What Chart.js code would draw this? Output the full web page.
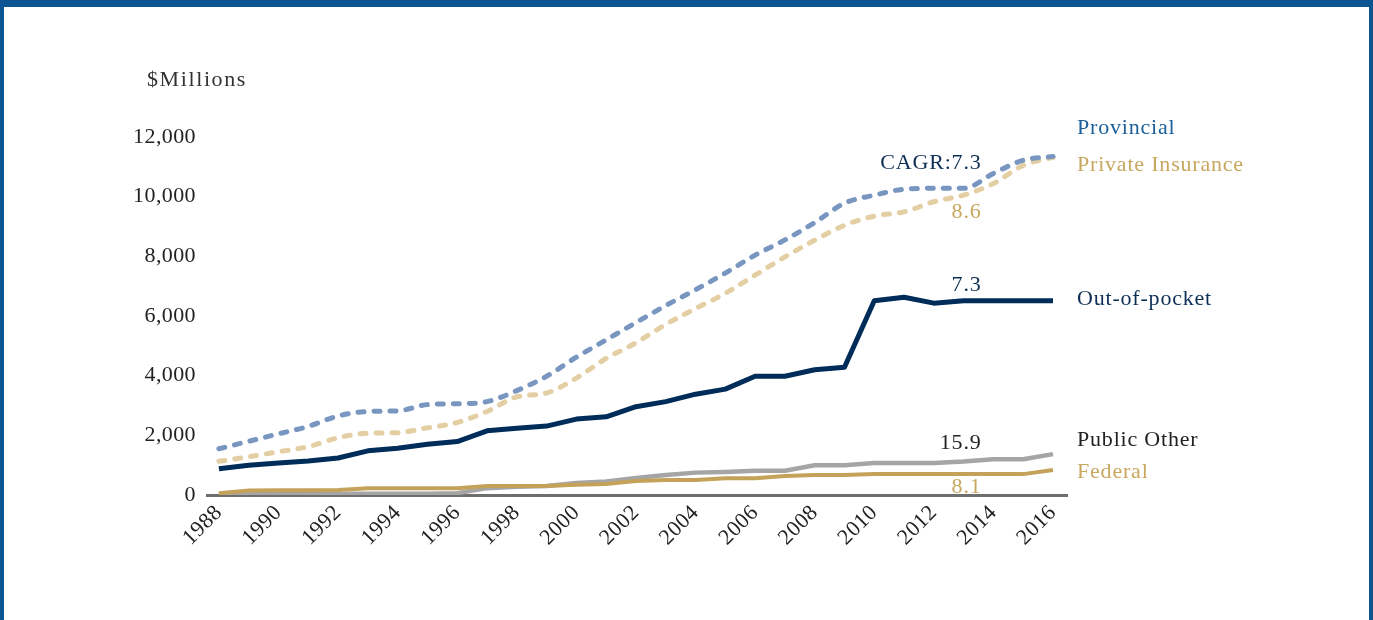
<!DOCTYPE html>
<html>
<head>
<meta charset="utf-8">
<script src="https://cdn.jsdelivr.net/npm/chart.js@4/dist/chart.umd.min.js"></script>
<style>
  html, body { margin: 0; padding: 0; background: #fff; }
  #wrap { position: relative; width: 1373px; height: 620px; overflow: hidden; }
  #frame {
    position: absolute; left: 0; top: 0; width: 1365px; height: 613px;
    border-top: 7px solid #0a5592; border-left: 4px solid #0a5592; border-right: 4px solid #0a5592;
    pointer-events: none;
  }
  canvas { position: absolute; left: 0; top: 0; }
</style>
</head>
<body>
<div id="wrap">
  <canvas id="spendChart" width="1373" height="620"></canvas>
  <div id="frame"></div>
</div>
<script>
const years = [1988, 1989, 1990, 1991, 1992, 1993, 1994, 1995, 1996, 1997, 1998, 1999, 2000, 2001, 2002,
  2003, 2004, 2005, 2006, 2007, 2008, 2009, 2010, 2011, 2012, 2013, 2014, 2015, 2016];
const tickYears = [1988, 1990, 1992, 1994, 1996, 1998, 2000, 2002, 2004, 2006, 2008, 2010, 2012, 2014, 2016];

const provincial = [1550, 1800, 2050, 2300, 2650, 2800, 2820, 3030, 3060, 3130, 3500, 3980, 4620, 5200, 5780,
  6350, 6880, 7440, 8040, 8550, 9130, 9780, 10050, 10250, 10280, 10280, 10780, 11220, 11350];
const privateInsurance = [1130, 1280, 1450, 1620, 1920, 2070, 2090, 2250, 2430, 2800, 3290, 3420, 3920, 4580, 5100,
  5720, 6250, 6760, 7370, 7980, 8540, 9040, 9350, 9490, 9830, 10050, 10440, 11050, 11320];
const outOfPocket = [880, 1000, 1070, 1140, 1240, 1480, 1570, 1700, 1790, 2150, 2240, 2310, 2545, 2620, 2960,
  3130, 3380, 3550, 3980, 3980, 4200, 4280, 6510, 6630, 6430, 6510, 6510, 6510, 6510];
const publicOther = [40, 40, 40, 40, 40, 40, 40, 40, 60, 230, 280, 300, 400, 450, 570,
  670, 750, 770, 810, 810, 1000, 1000, 1070, 1070, 1070, 1120, 1200, 1200, 1370];
const federal = [60, 150, 160, 160, 170, 230, 230, 230, 230, 300, 300, 300, 340, 370, 470,
  500, 500, 560, 560, 640, 670, 670, 700, 700, 700, 700, 700, 700, 840];

// growth labels: text, year / value anchor, colour
const cagrLabels = [
  { text: 'CAGR:7.3', x: 2013.6, y: 11120, color: '#0e2f55' },
  { text: '8.6', x: 2013.6, y: 9480, color: '#c8a75f' },
  { text: '7.3', x: 2013.6, y: 7035, color: '#0e2f55' },
  { text: '15.9', x: 2013.6, y: 1740, color: '#222222' },
  { text: '8.1', x: 2013.6, y: 270, color: '#c8a75f' }
];
// series names on the right
const seriesNames = ['Provincial', 'Private Insurance', 'Out-of-pocket', 'Public Other', 'Federal'];
const namePos = [12280, 11040, 6560, 1820, 760];
const nameColors = ['#1a5e9a', '#c8a75f', '#0e2f55', '#222222', '#c8a75f'];

const toXY = arr => arr.map((v, i) => ({ x: years[i], y: v }));
const FONT = "'Liberation Serif', 'Times New Roman', serif";

const spacingPlugin = {
  id: 'spacing',
  beforeDraw(chart) { chart.ctx.letterSpacing = '0.4px'; }
};

const textPlugin = {
  id: 'texts',
  afterDatasetsDraw(chart) {
    const { ctx, chartArea, scales } = chart;
    ctx.save();
    ctx.textBaseline = 'middle';
    // axis unit
    ctx.font = '22px ' + FONT;
    ctx.letterSpacing = '1.6px';
    ctx.fillStyle = '#333';
    ctx.textAlign = 'left';
    ctx.fillText('$Millions', 147, 80);
    // series names
    ctx.font = '22px ' + FONT;
    ctx.letterSpacing = '0.8px';
    seriesNames.forEach((n, i) => {
      ctx.fillStyle = nameColors[i];
      ctx.fillText(n, chartArea.right + 10, scales.y.getPixelForValue(namePos[i]));
    });
    // growth rates, clipped at the axis
    ctx.beginPath();
    ctx.rect(0, 0, chart.width, chartArea.bottom - 1);
    ctx.clip();
    ctx.textAlign = 'right';
    cagrLabels.forEach(l => {
      ctx.fillStyle = l.color;
      ctx.fillText(l.text, scales.x.getPixelForValue(l.x), scales.y.getPixelForValue(l.y));
    });
    ctx.restore();
  }
};

const ctx = document.getElementById('spendChart').getContext('2d');
new Chart(ctx, {
  type: 'line',
  data: {
    datasets: [
      { label: 'Provincial', data: toXY(provincial), borderColor: '#7896c0', borderWidth: 5,
        borderDash: [6, 10], borderCapStyle: 'round', cubicInterpolationMode: 'monotone' },
      { label: 'Private Insurance', data: toXY(privateInsurance), borderColor: '#e3cfa3', borderWidth: 5,
        borderDash: [6, 10], borderCapStyle: 'round', cubicInterpolationMode: 'monotone' },
      { label: 'Federal', data: toXY(federal), borderColor: '#c4a25a', borderWidth: 4, tension: 0 },
      { label: 'Public Other', data: toXY(publicOther), borderColor: '#a5a5a5', borderWidth: 4.5, tension: 0 },
      { label: 'Out-of-pocket', data: toXY(outOfPocket), borderColor: '#002c5a', borderWidth: 5, tension: 0 }
    ]
  },
  options: {
    responsive: false,
    animation: false,
    events: [],
    elements: { point: { radius: 0 }, line: { borderJoinStyle: 'round' } },
    layout: { padding: { left: 87, right: 306, top: 137, bottom: 65 } },
    plugins: { legend: { display: false }, tooltip: { enabled: false } },
    scales: {
      x: {
        type: 'linear',
        min: 1987.6,
        max: 2016.47,
        afterBuildTicks: s => { s.ticks = tickYears.map(v => ({ value: v })); },
        afterFit: s => { s.height = 60; },
        grid: { display: false, drawTicks: false },
        border: { display: true, color: '#6e6e6e', width: 3 },
        ticks: {
          autoSkip: false, minRotation: 45, maxRotation: 45, padding: 5,
          color: '#222', font: { family: FONT, size: 22 },
          callback: v => String(v)
        }
      },
      y: {
        min: 0,
        max: 12000,
        afterFit: s => { s.width = 120; },
        grid: { display: false, drawTicks: false },
        border: { display: false },
        ticks: {
          stepSize: 2000, padding: 11,
          color: '#222', font: { family: FONT, size: 22 },
          callback: v => v.toLocaleString('en-US')
        }
      }
    }
  },
  plugins: [spacingPlugin, textPlugin]
});
</script>
</body>
</html>
